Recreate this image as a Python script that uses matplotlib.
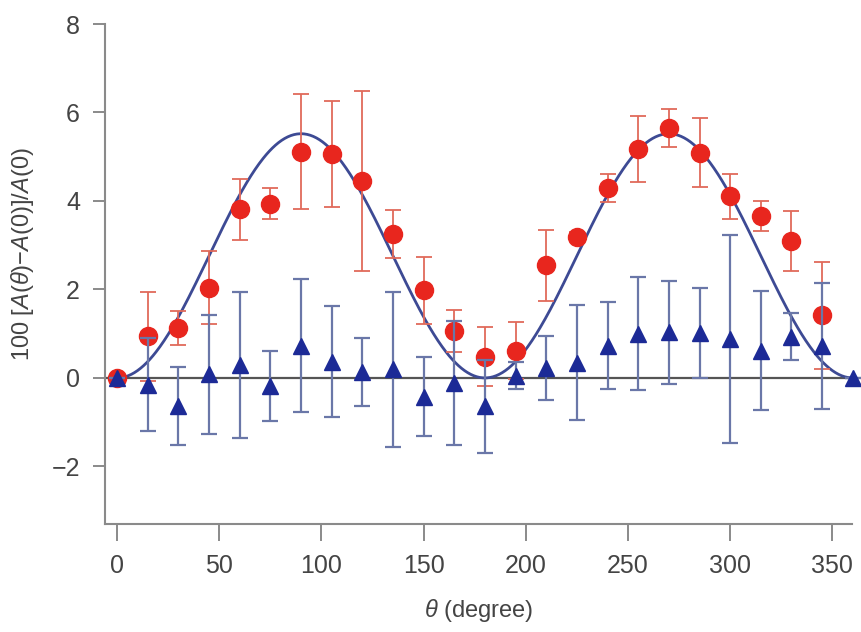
import numpy as np
import matplotlib
matplotlib.use("Agg")
import matplotlib.pyplot as plt

# === Data ===
theta = [0, 15, 30, 45, 60, 75, 90, 105, 120, 135, 150, 165, 180,
         195, 210, 225, 240, 255, 270, 285, 300, 315, 330, 345]
red_val = [0.0, 0.94, 1.13, 2.04, 3.81, 3.94, 5.11, 5.07, 4.45, 3.25, 1.98, 1.06, 0.48,
           0.62, 2.55, 3.19, 4.30, 5.18, 5.66, 5.09, 4.11, 3.66, 3.09, 1.42]
red_err = [0.0, 1.0, 0.38, 0.83, 0.69, 0.35, 1.3, 1.2, 2.03, 0.54, 0.75, 0.47, 0.67,
           0.64, 0.8, 0.1, 0.32, 0.74, 0.43, 0.78, 0.51, 0.34, 0.68, 1.21]

theta_b = [0, 15, 30, 45, 60, 75, 90, 105, 120, 135, 150, 165, 180,
           195, 210, 225, 240, 255, 270, 285, 300, 315, 330, 345, 360]
blue_val = [0.0, -0.15, -0.63, 0.08, 0.29, -0.18, 0.73, 0.37, 0.14, 0.2, -0.42, -0.12, -0.64,
            0.05, 0.22, 0.34, 0.73, 1.0, 1.03, 1.02, 0.89, 0.62, 0.93, 0.72, 0.0]
blue_err = [0.0, 1.05, 0.88, 1.35, 1.65, 0.8, 1.5, 1.25, 0.77, 1.75, 0.9, 1.4, 1.05,
            0.3, 0.73, 1.3, 0.98, 1.28, 1.16, 1.02, 2.35, 1.34, 0.53, 1.43, 0.0]

# fit curve: A*sin^2(theta)
FIT_AMP = 5.52

# === Style ===
plt.rcParams['font.family'] = ['Liberation Sans', 'DejaVu Sans']
plt.rcParams['mathtext.fontset'] = 'custom'
plt.rcParams['mathtext.rm'] = 'Liberation Sans'
plt.rcParams['mathtext.it'] = 'Liberation Sans:italic'
TXT = '#444444'
SPINE = '#8a8a8a'

fig = plt.figure(figsize=(8.61, 6.32), dpi=100)
ax = fig.add_axes([0.122, 0.171, 0.868, 0.791])

# zero line
ax.axhline(0, color='#555555', lw=1.6, zorder=1)

# fit
th = np.linspace(0, 360, 721)
ax.plot(th, FIT_AMP * np.sin(np.radians(th)) ** 2, color='#3d4a94', lw=2, zorder=2)

# red circles
ax.errorbar(theta, red_val, yerr=red_err, fmt='o', color='#e8261e', ms=13,
            ecolor='#e06a5a', elinewidth=1.3, capsize=6, capthick=1.3, zorder=3)

# blue triangles
ax.errorbar(theta_b, blue_val, yerr=blue_err, fmt='^', color='#1c2a96', ms=12,
            ecolor='#6a77a8', elinewidth=1.6, capsize=6, capthick=1.6, zorder=4,
            clip_on=False)

ax.set_xlim(-5.9, 359.8)
ax.set_ylim(-3.3, 8.0)
ax.set_xticks(np.arange(0, 351, 50))
ax.set_yticks(np.arange(-2, 9, 2))

for s in ['top', 'right']:
    ax.spines[s].set_visible(False)
for s in ['left', 'bottom']:
    ax.spines[s].set_color(SPINE)
    ax.spines[s].set_linewidth(1.5)

ax.tick_params(axis='both', direction='out', width=1.4, color=SPINE,
               labelsize=18, labelcolor=TXT)
ax.tick_params(axis='x', length=12, pad=10)
ax.tick_params(axis='y', length=9, pad=9)

ax.set_xlabel(r'$\theta$ (degree)', fontsize=17, color=TXT, labelpad=13)
ax.set_ylabel(r'100 [$A(\theta)$$-$$A$(0)]/$A$(0)', fontsize=17, color=TXT)
ax.yaxis.set_label_coords(-0.092, 0.54)

fig.savefig('out.png', dpi=100)
